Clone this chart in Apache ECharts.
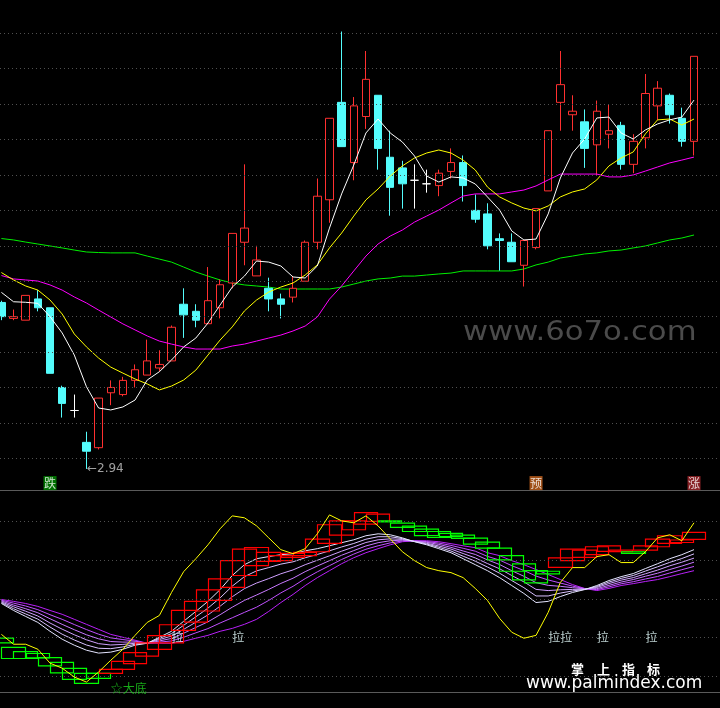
<!DOCTYPE html>
<html><head><meta charset="utf-8">
<script src="https://cdn.jsdelivr.net/npm/echarts@6/dist/echarts.min.js"></script>
<style>html,body{margin:0;padding:0;background:#000}#c{width:720px;height:708px}</style>
</head><body><div id="c"></div>
<script>
// ---- main panel: daily candles ----
const open  = [3.88,3.79,3.78,3.90,3.85,3.40,3.27,3.09,3.06,3.37,3.36,3.44,3.47,3.51,3.55,3.87,3.83,3.76,3.85,3.99,4.22,4.03,3.96,3.90,3.91,4.00,4.22,4.46,5.01,4.67,4.93,5.05,4.70,4.64,4.57,4.55,4.54,4.62,4.67,4.40,4.38,4.24,4.22,4.09,4.19,4.51,5.01,4.94,4.90,4.77,4.83,4.88,4.66,4.81,4.99,5.05,4.92,4.79];
const close = [3.80,3.80,3.92,3.85,3.48,3.31,3.27,3.04,3.34,3.40,3.44,3.50,3.55,3.53,3.74,3.81,3.78,3.89,3.98,4.27,4.30,4.12,3.90,3.87,3.96,4.22,4.48,4.92,4.76,4.99,5.14,4.75,4.53,4.55,4.57,4.55,4.61,4.67,4.54,4.35,4.20,4.23,4.11,4.23,4.41,4.85,5.11,4.96,4.75,4.96,4.85,4.66,4.79,5.06,5.09,4.94,4.79,5.27];
const low   = [3.78,3.78,3.78,3.83,3.48,3.23,3.23,2.94,3.05,3.30,3.35,3.40,3.47,3.49,3.55,3.68,3.74,3.76,3.79,3.96,4.09,4.03,3.83,3.79,3.88,4.00,4.18,4.33,4.76,4.57,4.86,4.63,4.37,4.41,4.41,4.50,4.48,4.58,4.45,4.33,4.18,4.06,4.11,3.97,4.18,4.51,4.85,4.85,4.64,4.60,4.75,4.63,4.61,4.75,4.91,4.89,4.76,4.71];
const high  = [3.89,3.84,3.92,3.95,3.85,3.41,3.36,3.15,3.34,3.44,3.46,3.53,3.67,3.61,3.75,3.96,3.87,4.08,4.01,4.27,4.66,4.20,4.02,3.93,4.03,4.23,4.58,4.92,5.41,5.04,5.30,5.05,4.85,4.68,4.66,4.63,4.63,4.75,4.71,4.49,4.44,4.27,4.27,4.23,4.41,4.85,5.30,5.05,4.97,5.02,5.00,4.90,4.83,5.17,5.13,5.06,4.98,5.27];

const maWhite   = [3.937,3.884,3.881,3.875,3.800,3.708,3.583,3.404,3.284,3.273,3.290,3.329,3.442,3.489,3.555,3.629,3.679,3.764,3.866,3.967,4.029,4.114,4.108,4.086,4.024,4.018,4.086,4.300,4.493,4.656,4.837,4.916,4.837,4.786,4.707,4.594,4.560,4.589,4.583,4.549,4.476,4.402,4.284,4.233,4.238,4.380,4.583,4.724,4.803,4.922,4.927,4.837,4.803,4.854,4.888,4.911,4.927,5.023];
const maYellow  = [4.049,4.007,3.973,3.950,3.894,3.815,3.702,3.629,3.566,3.515,3.481,3.448,3.420,3.386,3.408,3.442,3.498,3.583,3.668,3.742,3.832,3.894,3.939,3.967,3.990,4.035,4.092,4.188,4.272,4.368,4.459,4.521,4.594,4.651,4.696,4.724,4.741,4.724,4.684,4.628,4.532,4.476,4.442,4.413,4.397,4.425,4.476,4.504,4.521,4.572,4.651,4.696,4.730,4.832,4.911,4.916,4.882,4.916];
const maMagenta = [4.032,4.013,4.007,4.001,3.979,3.950,3.911,3.877,3.837,3.798,3.759,3.725,3.691,3.662,3.645,3.629,3.617,3.617,3.617,3.634,3.645,3.662,3.679,3.696,3.719,3.747,3.798,3.899,3.973,4.058,4.142,4.210,4.255,4.289,4.334,4.368,4.402,4.442,4.481,4.493,4.493,4.493,4.504,4.515,4.538,4.572,4.605,4.605,4.605,4.605,4.589,4.589,4.600,4.622,4.645,4.668,4.684,4.701];
const maGreen   = [4.241,4.233,4.221,4.210,4.199,4.188,4.176,4.165,4.162,4.160,4.160,4.160,4.142,4.125,4.108,4.080,4.052,4.029,4.007,3.990,3.979,3.973,3.967,3.956,3.956,3.956,3.956,3.956,3.967,3.984,4.001,4.013,4.018,4.029,4.029,4.035,4.041,4.046,4.058,4.058,4.058,4.058,4.058,4.069,4.092,4.108,4.131,4.142,4.154,4.160,4.171,4.176,4.188,4.199,4.216,4.233,4.244,4.261];

const mainTicks = [3.0,3.2,3.4,3.6,3.8,4.0,4.2,4.4,4.6,4.8,5.0,5.2,5.4];
const signalIdx  = [4, 44, 57];
const signalText = ['跌', '预', '涨'];

// ---- lower panel: indicator ----
const osc  = [21.6,16.5,16.5,13.9,6.7,4.1,-0.5,-3.1,2.1,8.2,13.9,21.1,27.8,31.4,43.3,54.1,60.8,68.0,76.3,83.0,82.0,77.8,71.6,65.5,63.4,66.0,73.7,83.5,80.4,79.4,83.0,77.8,71.1,64.4,59.8,56.2,54.6,53.6,51.0,45.4,39.2,29.9,22.7,19.6,21.1,33.0,48.5,56.2,56.2,61.9,62.9,58.8,58.8,64.4,71.6,73.2,70.1,79.4];
const fan1 = [37.6,34.0,30.9,27.8,23.2,19.1,16.0,13.4,11.9,12.4,13.9,16.0,17.0,20.1,23.2,28.4,33.5,38.7,44.8,52.1,57.7,60.8,61.9,62.9,63.4,64.9,66.0,67.5,69.1,70.6,72.7,73.7,73.2,71.6,69.6,68.0,66.0,63.9,60.8,57.7,54.6,51.0,46.9,42.8,38.1,38.7,41.2,43.3,44.8,46.9,49.5,51.5,53.1,55.7,58.2,60.8,62.9,65.5];
const fan2 = [38.0,34.9,32.2,29.5,25.4,21.7,18.7,16.1,14.4,14.2,15.1,16.5,17.0,19.5,22.0,26.3,30.7,35.2,40.5,46.6,51.5,54.5,56.2,58.0,59.2,61.3,63.0,64.9,66.9,68.7,70.9,72.2,72.2,71.2,69.7,68.4,66.7,64.8,62.1,59.5,56.5,53.3,49.5,45.8,41.5,41.5,43.0,44.1,44.9,46.4,48.7,50.6,52.1,54.4,56.6,58.9,60.9,63.3];
const fan3 = [38.4,35.9,33.6,31.1,27.5,24.3,21.4,18.8,16.8,16.1,16.4,17.0,17.0,18.9,20.7,24.2,27.9,31.7,36.2,41.1,45.3,48.2,50.5,53.0,55.0,57.7,60.0,62.3,64.7,66.9,69.2,70.6,71.1,70.8,69.8,68.8,67.4,65.8,63.5,61.2,58.3,55.6,52.1,48.8,44.9,44.3,44.7,44.9,45.0,45.9,47.9,49.7,51.0,53.0,54.9,57.1,59.0,61.1];
const fan4 = [38.9,36.8,34.9,32.8,29.7,26.8,24.0,21.4,19.3,17.9,17.6,17.6,17.0,18.2,19.5,22.2,25.2,28.1,31.8,35.7,39.2,42.0,44.9,48.0,50.7,54.1,57.0,59.8,62.6,65.0,67.4,69.1,70.1,70.4,69.9,69.3,68.2,66.7,64.8,63.0,60.2,57.8,54.6,51.7,48.4,47.0,46.5,45.8,45.2,45.3,47.0,48.7,50.0,51.7,53.3,55.2,57.0,59.0];
const fan5 = [39.3,37.8,36.3,34.4,31.8,29.4,26.7,24.1,21.7,19.8,18.9,18.1,17.0,17.6,18.2,20.1,22.4,24.6,27.5,30.2,33.0,35.7,39.2,43.1,46.5,50.5,54.0,57.2,60.4,63.2,65.7,67.5,69.0,70.0,70.0,69.7,68.9,67.7,66.2,64.7,62.0,60.1,57.2,54.7,51.8,49.8,48.2,46.6,45.3,44.8,46.2,47.8,48.9,50.3,51.6,53.4,55.1,56.8];
const fan6 = [39.7,38.7,37.6,36.1,34.0,32.0,29.4,26.8,24.2,21.6,20.1,18.6,17.0,17.0,17.0,18.0,19.6,21.1,23.2,24.7,26.8,29.4,33.5,38.1,42.3,46.9,51.0,54.6,58.2,61.3,63.9,66.0,68.0,69.6,70.1,70.1,69.6,68.6,67.5,66.5,63.9,62.4,59.8,57.7,55.2,52.6,50.0,47.4,45.4,44.3,45.4,46.9,47.9,49.0,50.0,51.5,53.1,54.6];
const boxOpen  = [19.7,14.9,12.7,11.7,9.6,7.1,4.0,1.4,1.4,1.4,3.5,6.5,10.3,13.8,17.2,23.7,28.0,33.7,39.2,46.0,52.1,57.2,59.4,59.8,61.5,62.4,64.4,68.7,73.0,75.8,78.7,80.1,80.4,79.2,77.7,76.1,74.9,73.9,73.0,71.5,69.4,66.3,62.4,58.1,54.6,54.3,56.3,59.8,61.5,62.9,64.6,64.4,64.4,65.3,67.0,68.7,69.2,70.8];
const boxClose = [17.2,9.1,9.1,9.4,5.3,1.7,-1.7,-3.8,-1.2,3.5,7.6,12.2,17.2,21.0,26.6,34.0,38.7,44.7,50.4,59.8,65.8,66.6,64.1,62.4,63.6,64.1,71.0,78.4,80.4,80.4,84.7,83.9,79.9,77.0,74.9,72.8,71.8,72.2,71.3,68.4,66.3,60.2,54.3,49.8,48.3,52.9,61.2,65.8,65.3,67.0,67.4,65.3,63.6,67.4,71.0,72.7,70.5,74.4];
const subTicks = [0, 20, 40, 60, 80];
const laIdx = [14, 19, 45, 46, 49, 53];
const bottomIdx = 9;

// ---------------------------------------------------------------
const X_MIN = -0.1152, X_MAX = 59.139;
const MAIN_MIN = 2.821, MAIN_MAX = 5.588;
const SUB_MIN = -8.25, SUB_MAX = 95.88;
const cjk = '"Noto Sans CJK SC"';

const gridLineStyle = {color:'#505050', type:[1,3], width:1};
function lineSeries(arr, color, ax, z){
  return {type:'line', xAxisIndex:ax, yAxisIndex:ax, data: arr.map((v,i)=>[i,v]),
    symbol:'none', showSymbol:false, silent:true, z:z,
    lineStyle:{color:color, width:1}};
}
const lowIdx = low.indexOf(Math.min(...low));

const series = [];
const g = lineSeries(maGreen, '#00F000', 0, 2);
g.markLine = {silent:true, symbol:'none', label:{show:false}, lineStyle:gridLineStyle,
  data: mainTicks.map(v=>({yAxis:v}))};
series.push(g);
series.push({type:'candlestick', xAxisIndex:0, yAxisIndex:0, barWidth:8, z:3, silent:true,
  data: open.map((o,i)=>[i,o,close[i],low[i],high[i]]),
  itemStyle:{color:'#000', color0:'#54FCFC', borderColor:'#FF3030', borderColor0:'#54FCFC', borderColorDoji:'#FFFFFF', borderWidth:1}});
series.push(lineSeries(maMagenta, '#FF00FF', 0, 4));
series.push(lineSeries(maYellow, '#FFFF00', 0, 4));
series.push(lineSeries(maWhite, '#FFFFFF', 0, 4));
series.push({type:'scatter', xAxisIndex:0, yAxisIndex:0, symbolSize:1, itemStyle:{color:'transparent'}, silent:true, z:6,
  data:[[lowIdx, low[lowIdx]]],
  label:{show:true, position:'right', distance:0, formatter:'←'+low[lowIdx].toFixed(2), color:'#C8C8C8', fontSize:12, fontFamily:'"DejaVu Sans"'}});
const sigBg = ['#008C00', '#C8641E', '#A8282D'];
series.push({type:'scatter', xAxisIndex:0, yAxisIndex:0, symbol:'rect', symbolSize:[13,14], silent:true, z:6,
  data: signalIdx.map((i,k)=>({value:[i, MAIN_MIN+0.039], itemStyle:{color:sigBg[k]}, label:{formatter:signalText[k]}})),
  label:{show:true, position:'inside', color:'#FFFFFF', fontSize:12, fontFamily:cjk}});

const fanCols = ['#E4E4FF','#D8C0FF','#D0A0FF','#C878FF','#C050FF','#B820F8'];
[fan6,fan5,fan4,fan3,fan2,fan1].forEach((arr,k)=>{
  const s = lineSeries(arr, fanCols[5-k], 1, 2);
  if(k===0){ s.markLine = {silent:true, symbol:'none', label:{show:false}, lineStyle:gridLineStyle, data: subTicks.map(v=>({yAxis:v}))}; }
  series.push(s);
});
series.push({type:'candlestick', xAxisIndex:1, yAxisIndex:1, barWidth:24, z:3, silent:true,
  data: boxOpen.map((o,i)=>[i,o,boxClose[i],Math.min(o,boxClose[i]),Math.max(o,boxClose[i])]),
  itemStyle:{color:'transparent', color0:'transparent', borderColor:'#FF0000', borderColor0:'#00FF00', borderWidth:1.2}});
series.push(lineSeries(osc, '#FFFF00', 1, 5));
series.push({type:'scatter', xAxisIndex:1, yAxisIndex:1, symbolSize:1, itemStyle:{color:'transparent'}, silent:true, z:6,
  data: laIdx.map(i=>[i,20]),
  label:{show:true, position:'inside', align:'left', verticalAlign:'middle', formatter:'拉', color:'#E6FFFF', fontSize:12, fontFamily:cjk}});
series.push({type:'scatter', xAxisIndex:1, yAxisIndex:1, symbolSize:1, itemStyle:{color:'transparent'}, silent:true, z:6,
  data: [[bottomIdx, -6.2]],
  label:{show:true, position:'inside', align:'left', verticalAlign:'middle', formatter:'☆大底', color:'#1ED21E', fontSize:12, fontFamily:cjk}});

const xAx = (gi)=>({gridIndex:gi, type:'value', min:X_MIN, max:X_MAX,
  axisLine:{show:true, onZero:false, lineStyle:{color:'#5a5a5a', width:1}},
  axisTick:{show:false}, axisLabel:{show:false}, splitLine:{show:false}});

const chart = echarts.init(document.getElementById('c'));
chart.setOption({
  backgroundColor:'#000',
  animation:false,
  grid:[{left:0, right:0, top:0, height:490}, {left:0, right:0, top:491, height:201}],
  xAxis:[xAx(0), xAx(1)],
  yAxis:[{gridIndex:0, type:'value', min:MAIN_MIN, max:MAIN_MAX, show:false},
         {gridIndex:1, type:'value', min:SUB_MIN, max:SUB_MAX, show:false}],
  series: series,
  graphic:[
    {type:'text', x:463, y:333, scaleX:1.18, silent:true, z:1,
      style:{text:'www.6o7o.com', fill:'#4b4b4b', font:'26px "DejaVu Sans"', verticalAlign:'middle'}},
    {type:'text', x:571, y:669, silent:true, style:{text:'掌', fill:'#fff', font:'bold 13px '+cjk, verticalAlign:'middle'}},
    {type:'text', x:597, y:669, silent:true, style:{text:'上', fill:'#fff', font:'bold 13px '+cjk, verticalAlign:'middle'}},
    {type:'text', x:622, y:669, silent:true, style:{text:'指', fill:'#fff', font:'bold 13px '+cjk, verticalAlign:'middle'}},
    {type:'text', x:647, y:669, silent:true, style:{text:'标', fill:'#fff', font:'bold 13px '+cjk, verticalAlign:'middle'}},
    {type:'text', x:526, y:684, silent:true, style:{text:'www.palmindex.com', fill:'#fff', font:'17px "DejaVu Sans"', verticalAlign:'middle'}}
  ]
});
</script></body></html>
